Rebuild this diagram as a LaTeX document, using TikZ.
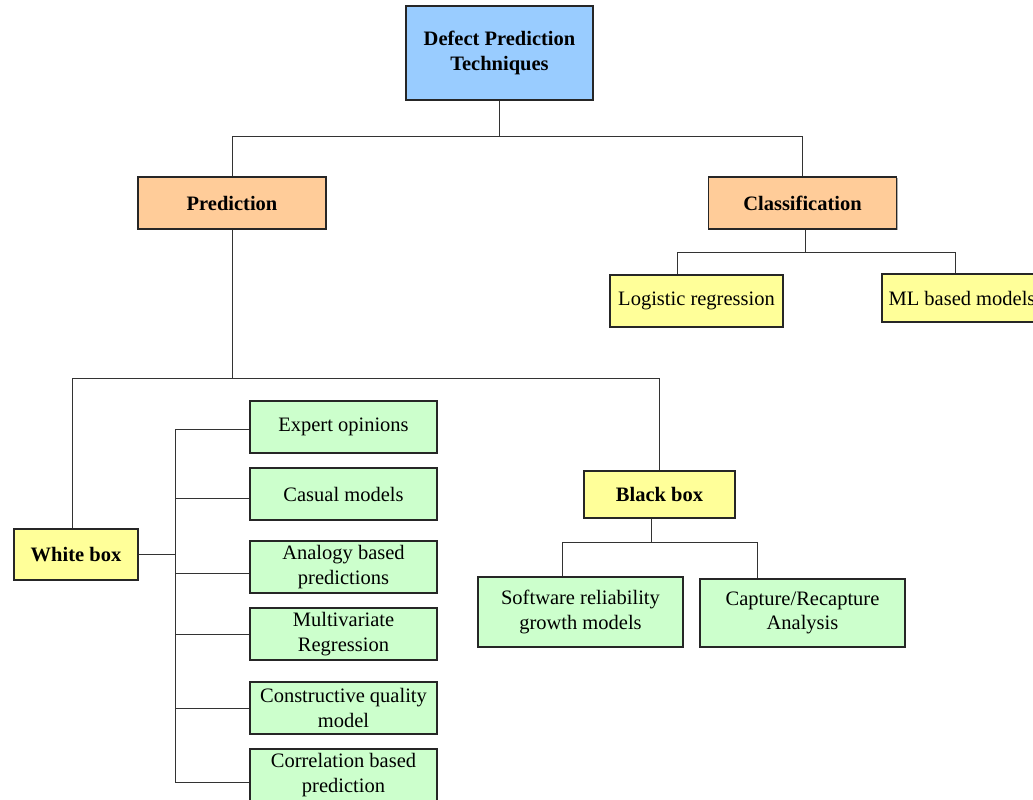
\documentclass[tikz,border=0pt]{standalone}
\usepackage{fontspec}
\setmainfont{Liberation Serif}
\usetikzlibrary{shadows}

\definecolor{rootblue}{HTML}{99CCFF}
\definecolor{catpeach}{HTML}{FFCC99}
\definecolor{boxyellow}{HTML}{FFFF99}
\definecolor{techgreen}{HTML}{CCFFCC}

\tikzset{
  box/.style={draw=black!85, line width=1.1pt, inner sep=0pt, align=center,
    font=\fontsize{20.5}{24.5}\selectfont,
    drop shadow={shadow xshift=1.2pt, shadow yshift=-1.2pt, fill=black!45, opacity=.7}},
  rootbox/.style={box, fill=rootblue, font=\fontsize{20.5}{25}\selectfont\bfseries,
    minimum width=187pt, minimum height=94pt},
  catbox/.style={box, fill=catpeach, font=\fontsize{20.5}{24.5}\selectfont\bfseries,
    minimum width=188pt, minimum height=52pt},
  typebox/.style={box, fill=boxyellow, font=\fontsize{20.5}{24.5}\selectfont\bfseries},
  leafbox/.style={box, fill=boxyellow},
  techbox/.style={box, fill=techgreen, minimum width=187pt, minimum height=52pt},
  link/.style={draw=black!80, line width=1pt}
}

\begin{document}
\begin{tikzpicture}[x=1pt, y=-1pt]
\useasboundingbox (0,0) rectangle (1033,800);

% top levels
\node[rootbox] (dpt) at (499.5,53) {Defect Prediction\\Techniques};
\node[catbox] (pred) at (232,203) {Prediction};
\node[catbox] (cls) at (802.5,203) {Classification};

% classification side
\node[leafbox, minimum width=173pt, minimum height=52pt] (logr) at (696.5,301) {Logistic regression};
\node[leafbox, minimum width=160pt, minimum height=48pt] (mlb) at (962,298) {ML based models};

% prediction side
\node[typebox, minimum width=124pt, minimum height=51pt] (wbox) at (76,554.5) {White box};
\node[typebox, minimum width=151pt, minimum height=47pt] (bbox) at (659.5,494.5) {Black box};

\node[techbox] (exp) at (343.5,427) {Expert opinions};
\node[techbox] (cas) at (343.5,494) {Casual models};
\node[techbox] (ana) at (343.5,567) {Analogy based\\predictions};
\node[techbox] (mvr) at (343.5,634) {Multivariate\\Regression};
\node[techbox] (cqm) at (343.5,708) {Constructive quality\\model};
\node[techbox] (cor) at (343.5,775) {Correlation based\\prediction};

\node[techbox, minimum width=205pt, minimum height=70pt] (srgm) at (580.5,612) {Software reliability\\growth models};
\node[techbox, minimum width=205pt, minimum height=68pt] (cra) at (802.5,613) {Capture/Recapture\\Analysis};

% connectors
\draw[link] (dpt.south) -- ++(0,36) coordinate (j1) -| (pred.north);
\draw[link] (j1) -| (cls.north);

\draw[link] (pred.south) -- ++(0,149) coordinate (j2) -| ([xshift=-4pt]wbox.north);
\draw[link] (j2) -| (bbox.north);

\draw[link] ([xshift=2.5pt]cls.south) -- ++(0,23) coordinate (j3) -| ([xshift=-19.5pt]logr.north);
\draw[link] (j3) -| ([xshift=-7pt]mlb.north);

\draw[link] (wbox.east) -- ++(37,0) coordinate (j4);
\foreach \n/\s in {exp/-2, cas/-4, ana/-6, mvr/0, cqm/0, cor/-7}
  \draw[link] ([yshift=\s pt]\n.west) -| (j4);

\draw[link] ([xshift=-8.5pt]bbox.south) -- ++(0,24) coordinate (j5) -| ([xshift=-18.5pt]srgm.north);
\draw[link] (j5) -| ([xshift=-45.5pt]cra.north);

\end{tikzpicture}
\end{document}
